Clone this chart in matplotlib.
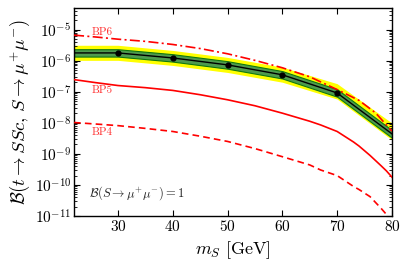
import numpy as np
import matplotlib
matplotlib.use("Agg")
import matplotlib.pyplot as plt
from matplotlib.ticker import LogLocator, NullFormatter, FixedLocator

plt.rcParams['font.family'] = ['cmr10']
plt.rcParams['mathtext.fontset'] = 'cm'
plt.rcParams['axes.formatter.use_mathtext'] = True

# === data ===
mass = [22, 30, 40, 50, 60, 70, 80]
central = [1.77e-6, 1.77e-6, 1.22e-6, 7.3e-7, 3.5e-7, 9.1e-8, 4.4e-9]
yellow_hi = [3.12e-6, 3.12e-6, 2.13e-6, 1.27e-6, 6.17e-7, 1.81e-7, 9.8e-9]
yellow_lo = [1.02e-6, 1.02e-6, 7.0e-7, 4.16e-7, 2.02e-7, 5.8e-8, 2.83e-9]
green_hi = [2.33e-6, 2.33e-6, 1.61e-6, 9.6e-7, 4.6e-7, 1.2e-7, 5.8e-9]
green_lo = [1.35e-6, 1.35e-6, 9.3e-7, 5.5e-7, 2.66e-7, 6.9e-8, 3.3e-9]
point_mass = [30, 40, 50, 60, 70]
point_val = [1.77e-6, 1.22e-6, 7.3e-7, 3.5e-7, 9.1e-8]

bp6_m = [22, 26, 30, 35, 40, 45, 50, 55, 60, 65, 70, 74, 77, 80]
bp6 = [6.61e-6, 5.75e-6, 4.90e-6, 4.17e-6, 3.31e-6, 2.45e-6, 1.66e-6, 1.02e-6,
       5.89e-7, 3.02e-7, 1.17e-7, 5.25e-8, 2.09e-8, 5.37e-9]

bp5_m = [22, 26, 30, 35, 40, 45, 50, 55, 60, 65, 67, 70, 73, 74, 76, 78, 79, 80]
bp5 = [2.45e-7, 1.95e-7, 1.58e-7, 1.35e-7, 1.10e-7, 8.0e-8, 5.50e-8, 3.53e-8,
       2.04e-8, 1.12e-8, 8.5e-9, 5.25e-9, 2.40e-9, 1.78e-9, 8.9e-10, 4.17e-10,
       2.82e-10, 1.78e-10]

bp4_m = [22, 26, 30, 35, 40, 45, 50, 55, 60, 65, 67, 70, 73, 74, 76, 78, 79, 80]
bp4 = [1.02e-8, 9.1e-9, 8.1e-9, 6.6e-9, 5.25e-9, 3.7e-9, 2.51e-9, 1.48e-9,
       8.1e-10, 4.4e-10, 3.02e-10, 2.0e-10, 8.9e-11, 7.1e-11, 4.2e-11, 1.78e-11,
       1.12e-11, 7.1e-12]

# === plot ===
fig = plt.figure(figsize=(4.07, 2.70), dpi=100)
ax = fig.add_axes([0.182, 0.2, 0.781, 0.771])

ax.fill_between(mass, yellow_lo, yellow_hi, color='#ffff00', lw=0, zorder=1)
ax.fill_between(mass, green_lo, green_hi, facecolor='#4f9a4f', edgecolor='#0f7a0f', lw=0.8, zorder=2)
ax.plot(mass, central, color='black', lw=1.0, zorder=4)
ax.plot(point_mass, point_val, 'o', color='black', ms=3.5, zorder=5)

ax.plot(bp6_m, bp6, color='red', lw=1.2, dashes=[6, 2, 1.2, 2], zorder=3)
ax.plot(bp5_m, bp5, color='red', lw=1.2, zorder=3)
ax.plot(bp4_m, bp4, color='red', lw=1.2, dashes=[4, 2.5], zorder=3)

ax.text(25.2, 8.0e-6, 'BP6', color='#ff3030', fontsize=8, va='center')
ax.text(25.2, 1.15e-7, 'BP5', color='#ff3030', fontsize=8, va='center')
ax.text(25.2, 5.1e-9, 'BP4', color='#ff3030', fontsize=8, va='center')
ax.text(24.8, 5.5e-11, r'$\mathcal{B}(S\to\mu^{+}\mu^{-})=1$', fontsize=9, color='#222222', va='center')

ax.set_yscale('log')
ax.set_xlim(22, 80)
ax.set_ylim(1e-11, 5e-5)
ax.xaxis.set_major_locator(FixedLocator([30, 40, 50, 60, 70, 80]))
ax.yaxis.set_major_locator(LogLocator(base=10, numticks=20))
ax.yaxis.set_minor_locator(LogLocator(base=10, subs=np.arange(2, 10), numticks=20))
ax.yaxis.set_minor_formatter(NullFormatter())
ax.tick_params(which='both', direction='in', top=True, right=True, labelsize=11, pad=2)
ax.tick_params(which='major', length=4, width=0.8)
ax.tick_params(which='minor', length=2, width=0.6)
for s in ax.spines.values():
    s.set_linewidth(1.0)

ax.set_xlabel(r'$m_S\ [\mathrm{GeV}]$', fontsize=13)
ax.set_ylabel(r'$\mathcal{B}(t\to SSc,\, S\to\mu^{+}\mu^{-})$', fontsize=13.5, labelpad=2)

fig.savefig('out.png', dpi=100)
